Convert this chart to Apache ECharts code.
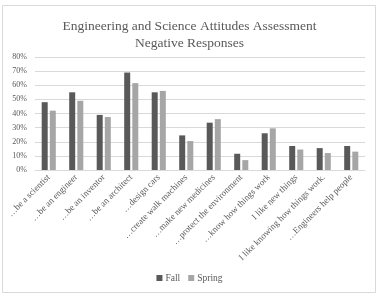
<!DOCTYPE html>
<html><head><meta charset="utf-8">
<script src="https://cdn.jsdelivr.net/npm/echarts@6/dist/echarts.min.js"></script>
<style>html,body{margin:0;padding:0;background:#fff}#c{width:379px;height:296px;}</style>
</head><body><div id="c"></div>
<script>
var categories = ["…be a scientist","…be an engineer","…be an inventor","…be an architect","…design cars","…create walk machines","…make new medicines","…protect the environment","…know how things work","I like new things","I like knowing how things work.","…Engineers help people"];
var fall = [48, 55, 39, 69, 55, 24.5, 33.5, 11.5, 26, 17, 15.5, 17];
var spring = [42, 49, 37.5, 61.5, 56, 20.5, 36, 7, 29.5, 14.5, 12, 13];
var yTicks = [0, 10, 20, 30, 40, 50, 60, 70, 80];
var font = "Liberation Serif";
var chart = echarts.init(document.getElementById('c'));
chart.setOption({
  animation: false,
  backgroundColor: '#fff',
  title: {
    text: 'Engineering and Science Attitudes Assessment\nNegative Responses',
    left: 'center', top: 13,
    textStyle: {fontFamily: font, fontSize: 13.5, fontWeight: 'normal', color: '#595959', lineHeight: 17}
  },
  legend: {
    bottom: 8, left: 'center',
    itemWidth: 6, itemHeight: 6, itemGap: 8,
    textStyle: {fontFamily: font, fontSize: 9.5, color: '#595959', padding: [0,0,0,-2]},
    data: [{name:'Fall', icon:'rect'}, {name:'Spring', icon:'rect'}]
  },
  grid: {left: 35, right: 14, top: 57, bottom: 126, containLabel: false},
  xAxis: {
    type: 'category', data: categories,
    axisLine: {lineStyle: {color: '#d9d9d9'}},
    axisTick: {show: false},
    axisLabel: {rotate: 45, interval: 0, fontFamily: font, fontSize: 9, color: '#595959', margin: 6}
  },
  yAxis: {
    type: 'value', min: 0, max: 80, interval: 10,
    axisLine: {show: false}, axisTick: {show: false},
    splitLine: {lineStyle: {color: '#d9d9d9'}},
    axisLabel: {fontFamily: font, fontSize: 8, color: '#595959', formatter: function(v){return yTicks.indexOf(v) >= 0 ? v + '%' : '';}}
  },
  series: [
    {name: 'Fall', type: 'bar', data: fall, barWidth: 6, barGap: '35%', itemStyle: {color: '#595959'}},
    {name: 'Spring', type: 'bar', data: spring, barWidth: 6, itemStyle: {color: '#a6a6a6'}}
  ],
  graphic: [{type: 'rect', shape: {x: 2.5, y: 5.5, width: 373, height: 287}, style: {fill: 'none', stroke: '#d9d9d9', lineWidth: 1}, silent: true}]
});
</script></body></html>
